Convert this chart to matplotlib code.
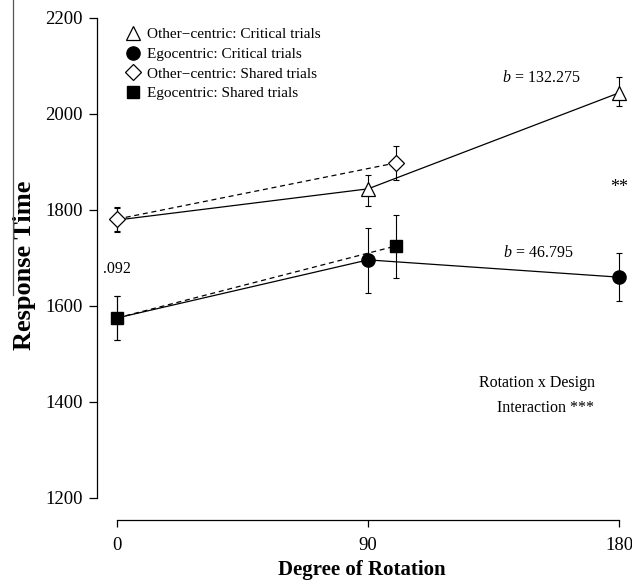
import matplotlib
matplotlib.use("Agg")
import matplotlib.pyplot as plt
from matplotlib.lines import Line2D

plt.rcParams['font.family'] = ['Liberation Serif', 'DejaVu Serif']
plt.rcParams['mathtext.fontset'] = 'custom'
plt.rcParams['mathtext.rm'] = 'Liberation Serif'
plt.rcParams['mathtext.it'] = 'Liberation Serif:italic'

# ---- data ----
rot_critical = [0, 90, 180]
rot_shared = [0, 100]          # shared points are drawn slightly offset from 90
other_crit = [1779, 1844, 2044]
other_crit_lo = [1754, 1808, 2017]
other_crit_hi = [1804, 1873, 2077]
ego_crit = [1575, 1696, 1660]
ego_crit_lo = [1530, 1627, 1610]
ego_crit_hi = [1620, 1762, 1710]
other_shared = [1781, 1898]
other_shared_lo = [1756, 1862]
other_shared_hi = [1806, 1933]
ego_shared = [1575, 1725]
ego_shared_lo = [1529, 1658]
ego_shared_hi = [1621, 1790]

xticks = [0, 90, 180]
yticks = [1200, 1400, 1600, 1800, 2000, 2200]
legend_labels = ["Other\u2212centric: Critical trials", "Egocentric: Critical trials",
                 "Other\u2212centric: Shared trials", "Egocentric: Shared trials"]

W, H = 632, 581
fig = plt.figure(figsize=(W / 100, H / 100), dpi=100)
left_px, right_px = 97, 627.4
bot_px, top_px = 520, 1.2
ax = fig.add_axes([left_px / W, 1 - bot_px / H, (right_px - left_px) / W, (bot_px - top_px) / H])
ax.set_xlim(-7.2, 183)
ax.set_ylim(1154, 2235)

lw = 0.9

def err(y, lo, hi):
    return [[a - b for a, b in zip(y, lo)], [b - a for a, b in zip(y, hi)]]

# lines
ax.plot(rot_critical, other_crit, color='black', lw=lw, zorder=2)
ax.plot(rot_critical, ego_crit, color='black', lw=lw, zorder=2)
ax.plot(rot_shared, other_shared, color='black', lw=lw, ls=(0, (4, 3)), zorder=2)
ax.plot(rot_shared, ego_shared, color='black', lw=lw, ls=(0, (4, 3)), zorder=2)

# error bars
ekw = dict(fmt='none', ecolor='black', elinewidth=0.8, capsize=2.5, capthick=0.8, zorder=3)
ax.errorbar(rot_critical, other_crit, yerr=err(other_crit, other_crit_lo, other_crit_hi), **ekw)
ax.errorbar(rot_critical, ego_crit, yerr=err(ego_crit, ego_crit_lo, ego_crit_hi), **ekw)
ax.errorbar(rot_shared, other_shared, yerr=err(other_shared, other_shared_lo, other_shared_hi), **ekw)
ax.errorbar(rot_shared, ego_shared, yerr=err(ego_shared, ego_shared_lo, ego_shared_hi), **ekw)

# markers (critical markers at 0 are hidden under the shared ones)
ax.plot(rot_critical, other_crit, ls='none', marker='^', ms=10, mfc='white', mec='black',
        mew=0.9, markevery=[1, 2], zorder=4)
ax.plot(rot_critical, ego_crit, ls='none', marker='o', ms=9.5, mfc='black', mec='black',
        markevery=[1, 2], zorder=4)
ax.plot(rot_shared, other_shared, ls='none', marker='D', ms=8, mfc='white', mec='black',
        mew=0.9, zorder=5)
ax.plot(rot_shared, ego_shared, ls='none', marker='s', ms=8.5, mfc='black', mec='black', zorder=5)

# axes styling (R base style)
for s in ['top', 'right']:
    ax.spines[s].set_visible(False)
ax.spines['left'].set_bounds(1200, 2200)
ax.spines['bottom'].set_bounds(0, 180)
ax.spines['left'].set_linewidth(0.9)
ax.spines['bottom'].set_linewidth(0.9)
ax.set_xticks(xticks)
ax.set_yticks(yticks)
ax.set_xticklabels([str(v) for v in xticks])
ax.set_yticklabels([str(v) for v in yticks])
ax.tick_params(axis='both', direction='out', length=6, width=0.9, labelsize=13.5, pad=4)
ax.tick_params(axis='x', length=5, pad=7)
ax.set_xlabel("Degree of Rotation", fontsize=15, fontweight='bold', labelpad=4.5)
ax.set_ylabel("Response Time", fontsize=19, fontweight='bold', va='center')
ax.yaxis.set_label_coords(-0.137, 0.49)

# annotations
ax.text(0, 1677, ".092", fontsize=11.5, ha='center', va='center')
ax.text(152, 2075, "$b$ = 132.275", fontsize=11.5, ha='center', va='center')
ax.text(151, 1710, "$b$ = 46.795", fontsize=11.5, ha='center', va='center')
ax.text(180, 1846, "**", fontsize=13, ha='center', va='center')
ax.text(171.5, 1440, "Rotation x Design", fontsize=11.5, ha='right', va='center')
ax.text(171, 1388, "Interaction ***", fontsize=11.5, ha='right', va='center')

# legend
handles = [
    Line2D([], [], ls='none', marker='^', ms=10, mfc='white', mec='black', mew=0.9),
    Line2D([], [], ls='none', marker='o', ms=9.5, mfc='black', mec='black'),
    Line2D([], [], ls='none', marker='D', ms=8, mfc='white', mec='black', mew=0.9),
    Line2D([], [], ls='none', marker='s', ms=8.5, mfc='black', mec='black'),
]
leg = ax.legend(handles, legend_labels, loc='upper left',
                bbox_to_anchor=(122 / W, 1 - 24.5 / H), bbox_transform=fig.transFigure,
                frameon=False, fontsize=11, handlelength=1.0, handletextpad=0.45,
                labelspacing=0.39, borderpad=0.2, borderaxespad=0)

# thin border line at the left edge of the original figure
fig.add_artist(Line2D([13 / W, 13 / W], [1, 1 - 295 / H], transform=fig.transFigure,
                      color='#555555', lw=0.9))

fig.savefig("out.png", dpi=100)
